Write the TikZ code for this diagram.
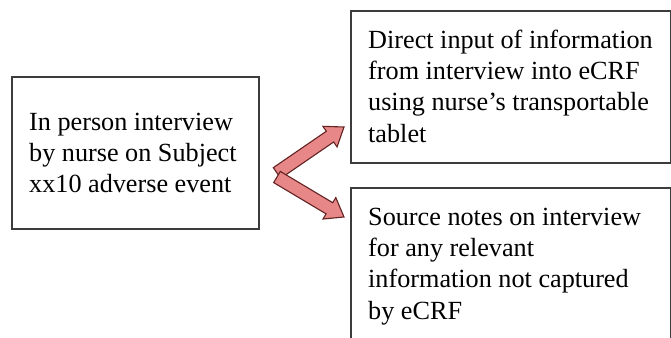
\documentclass[tikz,border=0pt]{standalone}
\usepackage{fontspec}
\setmainfont{Liberation Serif}
\usetikzlibrary{calc}
\definecolor{arrowfill}{RGB}{232,135,135}
\definecolor{arrowline}{RGB}{100,35,35}
\definecolor{boxline}{RGB}{60,60,60}
\tikzset{
  boxnode/.style={draw=boxline, line width=1.6pt, inner sep=0pt, anchor=north west},
  txt/.style={anchor=north west, inner sep=0pt, align=left, font=\fontsize{26.2}{31.4}\selectfont},
  blockarrow/.style={fill=arrowfill, draw=arrowline, line width=1.1pt, line join=miter}
}
\newcommand\blockarr[2]{%
  \coordinate (#1h) at ($(#2)!17pt!(#1)$);
  \draw[blockarrow] ($(#1)!6.5pt!90:(#2)$) -- ($(#1h)!6.5pt!90:(#2)$) -- ($(#1h)!12.5pt!90:(#2)$)
    -- (#2) -- ($(#1h)!12.5pt!-90:(#2)$) -- ($(#1h)!6.5pt!-90:(#2)$) -- ($(#1)!6.5pt!-90:(#2)$) -- cycle;
}
\begin{document}
\begin{tikzpicture}[x=1pt,y=-1pt]
\useasboundingbox (0,0) rectangle (671,337);
\fill[white] (0,0) rectangle (671,337);
\clip (0,0) rectangle (671,337);
% boxes
\node[boxnode, minimum width=247pt, minimum height=152pt] (left) at (11,76) {};
\node[boxnode, minimum width=320pt, minimum height=152pt] (top) at (350,10) {};
\node[boxnode, minimum width=320pt, minimum height=170pt] (bottom) at (350,187) {};
% texts
\node[txt] (lefttext) at (29,108) {\strut In person interview\\by nurse on Subject\\xx10 adverse event};
\node[txt] (toptext) at (368,26) {\strut Direct input of information\\from interview into eCRF\\using nurse’s transportable\\tablet};
\node[txt] (bottomtext) at (368,203) {\strut Source notes on interview\\for any relevant\\information not captured\\by eCRF};
% arrows
\coordinate (s1) at (277,173);
\coordinate (t1) at (344,127);
\coordinate (s2) at (277,177);
\coordinate (t2) at (344,217);
\blockarr{s1}{t1}
\blockarr{s2}{t2}
\end{tikzpicture}
\end{document}
